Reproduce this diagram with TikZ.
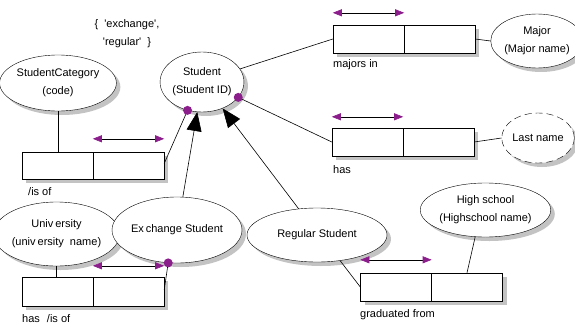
\documentclass[tikz,border=0pt]{standalone}
\usepackage{fontspec}
\setmainfont{Liberation Sans}
\usetikzlibrary{arrows.meta,shapes.geometric,shadows,calc}
\definecolor{rolepurple}{RGB}{140,30,140}
\definecolor{shadowgray}{RGB}{195,195,195}
\begin{document}
\begin{tikzpicture}[x=1pt,y=-1pt,
  font=\fontsize{11}{18}\selectfont,
  ent/.style={ellipse, draw, fill=white, inner sep=0pt, align=center,
    drop shadow={shadow xshift=4pt, shadow yshift=-4pt, fill=shadowgray, opacity=1}},
  half/.style={rectangle, draw, fill=white, minimum width=71pt, minimum height=28pt, inner sep=0pt,
    drop shadow={shadow xshift=4pt, shadow yshift=-4pt, fill=shadowgray, opacity=1}},
  lbl/.style={anchor=west, inner sep=0pt},
  conn/.style={draw, line width=0.6pt},
  isa/.style={conn, -{Triangle[length=19pt,width=15pt]}},
  role/.style={draw, line width=0.6pt, {Triangle[length=9pt,width=7pt,color=rolepurple]}-{Triangle[length=9pt,width=7pt,color=rolepurple]}},
  rdot/.style={fill=rolepurple}
]
\useasboundingbox (0,0) rectangle (575,324);

% entity types
\node[ent, minimum width=86pt, minimum height=56pt] (cat) at (58,83) {StudentCategory\\(code)};
\node[ent, minimum width=78pt, minimum height=60pt] (student) at (202,82) {Student\\(Student ID)};
\node[ent, minimum width=73pt, minimum height=54pt] (major) at (537,41) {Major\\(Major name)};
\node[ent, dashed, dash pattern=on 7pt off 4pt, minimum width=72pt, minimum height=50pt] (last) at (538,138) {Last name};
\node[ent, minimum width=111pt, minimum height=64pt] (univ) at (56.5,234) {Univ\hspace{2pt}ersity\\(univ\hspace{2pt}ersity\hspace{3pt} name)};
\node[ent, minimum width=118pt, minimum height=66pt] (exch) at (177,230) {Ex\hspace{2pt}change Student};
\node[ent, minimum width=140pt, minimum height=54pt] (regular) at (317,235) {Regular Student};
\node[ent, minimum width=125pt, minimum height=54pt] (high) at (485.5,210) {High school\\(Highschool name)};

% value constraint text
\node[align=center, inner sep=0pt] (vals) at (127,34) {\{\hspace{3pt} \textquotesingle exchange\textquotesingle,\\\textquotesingle regular\textquotesingle\hspace{3pt} \}};

% fact type boxes
\node[half, minimum height=27pt] (b1a) at (57.5,165.5) {};
\node[half, minimum height=27pt] (b1b) at (128.5,165.5) {};
\node[half] (mja) at (368.5,39) {};
\node[half] (mjb) at (439.5,39) {};
\node[half] (ha) at (367.5,142) {};
\node[half] (hb) at (438.5,142) {};
\node[half, minimum height=29pt] (b2a) at (57.5,291.5) {};
\node[half, minimum height=29pt] (b2b) at (128.5,291.5) {};
\node[half] (ga) at (396,287) {};
\node[half] (gb) at (467,287) {};

% labels
\node[lbl] (l1) at (28,192) {/is of};
\node[lbl] (l2) at (333,65) {majors in};
\node[lbl] (l3) at (333,170) {has};
\node[lbl] (l4) at (22,319) {has\hspace{4pt} /is of};
\node[lbl] (l5) at (360,315) {graduated from};

% uniqueness / role arrows
\draw[role] ([yshift=13pt]b1b.north west) -- ([yshift=13pt]b1b.north east);
\draw[role] ([yshift=12pt]mja.north west) -- ([yshift=12pt]mja.north east);
\draw[role] ([yshift=11pt]ha.north west) -- ([yshift=11pt]ha.north east);
\draw[role] ([yshift=11pt]b2b.north west) -- ([yshift=11pt]b2b.north east);
\draw[role] ([yshift=13pt]ga.north west) -- ([yshift=13pt]ga.north east);

% connectors
\draw[conn] (cat.south) -- (cat.south |- b1a.north);
\draw[conn] ([yshift=2pt]b1b.east) -- (student.243);
\draw[conn] (student.19) -- (mja.west);
\draw[conn] (student.-23) -- (ha.west);
\draw[conn] (mjb.east) -- (major.west);
\draw[conn] (hb.east) -- (last.west);
\draw[conn] (univ.south) -- (univ.south |- b2a.north);
\draw[conn] (exch.-105) -- ([yshift=1.5pt]b2b.east);
\draw[conn] (regular.-48) -- (ga.west);
\draw[conn] (high.-111.5) -- (gb.north);

% subtype arrows
\draw[isa] (exch.80) -- (student.261);
\draw[isa] (regular.125) -- (student.-52);

% mandatory role dots
\fill[rdot] (student.243) circle (4.5);
\fill[rdot] (student.-23) circle (4.5);
\fill[rdot] (exch.-105) circle (4.5);
\end{tikzpicture}
\end{document}
